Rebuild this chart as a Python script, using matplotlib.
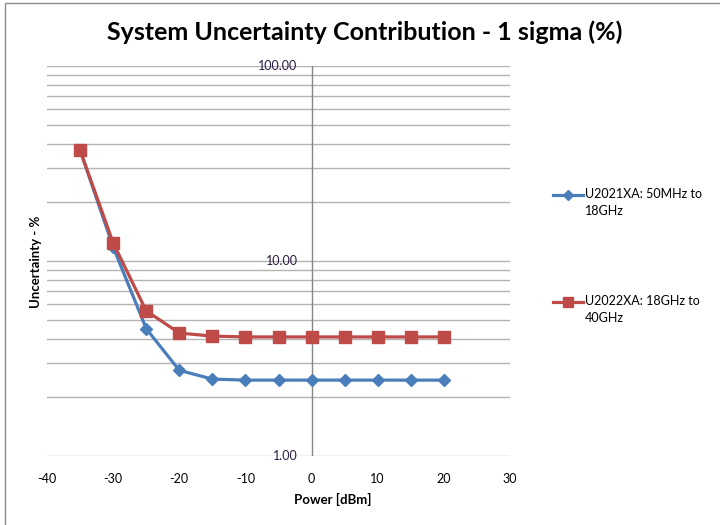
import matplotlib
matplotlib.use("Agg")
import matplotlib.pyplot as plt
from matplotlib.lines import Line2D
from matplotlib.patches import Rectangle
import numpy as np

power_dbm = [-35, -30, -25, -20, -15, -10, -5, 0, 5, 10, 15, 20]
u2021xa = [37.0, 11.8, 4.5, 2.75, 2.48, 2.45, 2.45, 2.45, 2.45, 2.45, 2.45, 2.45]
u2022xa = [37.0, 12.4, 5.55, 4.27, 4.12, 4.08, 4.08, 4.08, 4.08, 4.08, 4.08, 4.08]
series_labels = ["U2021XA: 50MHz to\n18GHz", "U2022XA: 18GHz to\n40GHz"]
x_ticks = [-40, -30, -20, -10, 0, 10, 20, 30]
y_ticks = [1, 10, 100]
y_tick_labels = ["1.00", "10.00", "100.00"]

plt.rcParams['font.family'] = ['Lato', 'DejaVu Sans']

W, H = 720, 525
fig = plt.figure(figsize=(7.2, 5.25), dpi=100)
fig.patch.set_facecolor('white')

# outer chart border
fig.add_artist(Rectangle((5 / W, -0.1), 1.2, (1 - 3 / H) + 0.1, transform=fig.transFigure,
                         fill=False, edgecolor='#8c8c8c', linewidth=1.0))

ax = fig.add_axes([47 / W, (H - 456) / H, (510 - 47) / W, (456 - 66) / H])
ax.set_yscale('log')
ax.set_xlim(-40, 30)
ax.set_ylim(1, 100)

for s in ['top', 'right', 'left', 'bottom']:
    ax.spines[s].set_visible(False)

# gridlines (major + minor)
grid_vals = []
for dec in [1, 10]:
    for m in range(1, 10):
        grid_vals.append(dec * m)
grid_vals.append(100)
for v in grid_vals:
    ax.axhline(v, color='#b3b3b3', linewidth=1.0, zorder=1)

# vertical axis at x = 0
ax.axvline(0, color='#868686', linewidth=1.0, zorder=2)

ax.set_yticks([])
ax.set_yticks([], minor=True)
for v, lab in zip(y_ticks, y_tick_labels):
    ax.annotate(lab, xy=(0, v), xycoords='data', xytext=(-14, 0), textcoords='offset pixels',
                ha='right', va='center', fontsize=9, color='#2a1a40', zorder=3)

ax.set_xticks(x_ticks)
ax.set_xticklabels([str(t) for t in x_ticks])
ax.tick_params(axis='x', length=0, pad=12, labelsize=9, colors='#000000')

c_blue = '#4a7ebb'
c_red = '#be4b48'
ax.plot(power_dbm, u2021xa, color=c_blue, linewidth=2.3, marker='D', markersize=6.5,
        zorder=4, clip_on=False)
ax.plot(power_dbm, u2022xa, color=c_red, linewidth=2.3, marker='s', markersize=8,
        zorder=5, clip_on=False)

fig.text(107 / W, 1 - 32 / H, "System Uncertainty Contribution - 1 sigma (%)",
         fontsize=18, fontweight='bold', ha='left', va='center')
fig.text(333 / W, 1 - 499 / H, "Power [dBm]", fontsize=9.5, fontweight='bold',
         ha='center', va='center')
fig.text(36 / W, 1 - 262 / H, "Uncertainty - %", fontsize=9.5, fontweight='bold',
         rotation=90, ha='center', va='center')

# legend
for i, (lab, col, mk, ms) in enumerate(zip(series_labels, [c_blue, c_red], ['D', 's'], [5, 7])):
    yy = 1 - [195, 302][i] / H
    fig.add_artist(Line2D([553 / W, 583 / W], [yy, yy], transform=fig.transFigure,
                          color=col, linewidth=2.3))
    fig.add_artist(Line2D([568 / W], [yy], transform=fig.transFigure, color=col,
                          marker=mk, markersize=ms, linestyle='none'))
    fig.text(585 / W, yy + 7 / H, lab, fontsize=9, ha='left', va='top', linespacing=1.5)

fig.savefig('out.png', dpi=100)
